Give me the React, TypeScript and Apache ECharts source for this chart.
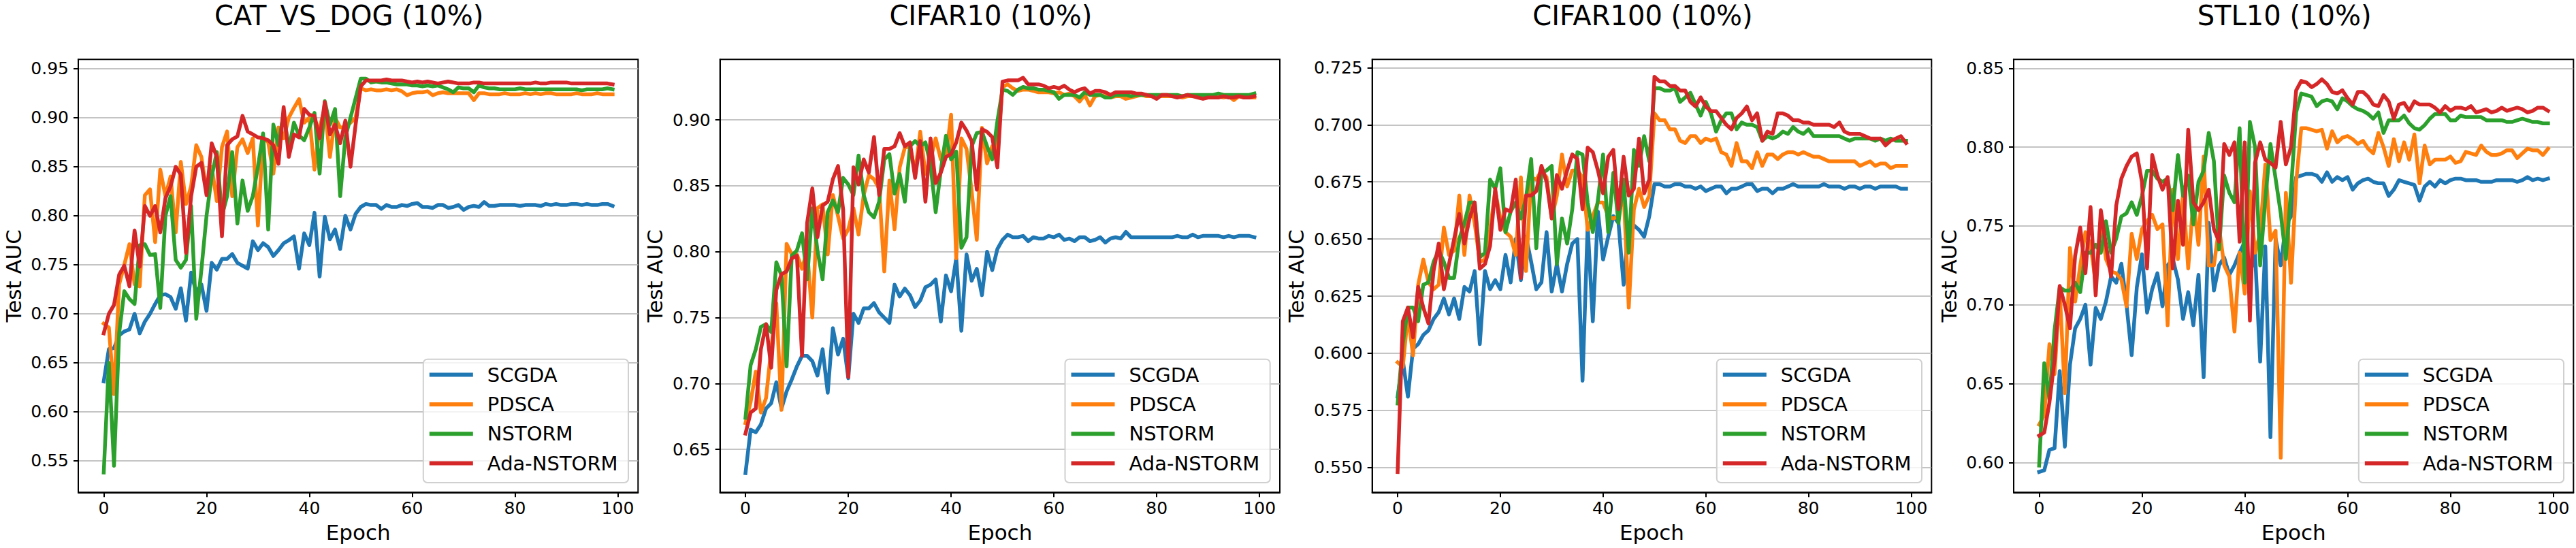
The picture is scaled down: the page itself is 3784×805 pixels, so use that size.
import React, { useEffect, useRef } from "react";
import * as echarts from "echarts";

// ---------------- data ----------------
const SERIES_NAMES = ["SCGDA", "PDSCA", "NSTORM", "Ada-NSTORM"];
const TITLES = ["CAT_VS_DOG (10%)", "CIFAR10 (10%)", "CIFAR100 (10%)", "STL10 (10%)"];
const X_TICKS = [0, 20, 40, 60, 80, 100];
const Y_TICKS_CAT = [0.55, 0.6, 0.65, 0.7, 0.75, 0.8, 0.85, 0.9, 0.95];
const Y_TICKS_C10 = [0.65, 0.7, 0.75, 0.8, 0.85, 0.9];
const Y_TICKS_C100 = [0.55, 0.575, 0.6, 0.625, 0.65, 0.675, 0.7, 0.725];
const Y_TICKS_STL = [0.6, 0.65, 0.7, 0.75, 0.8, 0.85];

const CAT_SCGDA = [
  0.631, 0.664, 0.665, 0.678, 0.682, 0.684, 0.700, 0.680, 0.692, 0.700,
  0.710, 0.719, 0.720, 0.717, 0.705, 0.726, 0.693, 0.742, 0.722, 0.730,
  0.703, 0.752, 0.745, 0.756, 0.756, 0.761, 0.752, 0.749, 0.746, 0.774,
  0.765, 0.772, 0.768, 0.759, 0.765, 0.772, 0.775, 0.779, 0.746, 0.782,
  0.770, 0.803, 0.738, 0.799, 0.776, 0.786, 0.766, 0.800, 0.786, 0.802,
  0.809, 0.812, 0.811, 0.811, 0.807, 0.811, 0.809, 0.809, 0.811, 0.810,
  0.812, 0.813, 0.809, 0.809, 0.808, 0.811, 0.811, 0.808, 0.809, 0.811,
  0.806, 0.809, 0.810, 0.809, 0.814, 0.810, 0.810, 0.811, 0.811, 0.811,
  0.811, 0.810, 0.811, 0.811, 0.811, 0.810, 0.812, 0.811, 0.812, 0.811,
  0.811, 0.812, 0.812, 0.811, 0.812, 0.811, 0.811, 0.812, 0.812, 0.810,
];
const CAT_PDSCA = [
  0.690, 0.686, 0.618, 0.730, 0.750, 0.771, 0.730, 0.728, 0.821, 0.827,
  0.773, 0.847, 0.820, 0.840, 0.783, 0.855, 0.812, 0.830, 0.872, 0.860,
  0.825, 0.850, 0.815, 0.870, 0.886, 0.820, 0.870, 0.878, 0.864, 0.879,
  0.790, 0.880, 0.875, 0.843, 0.890, 0.879, 0.900, 0.910, 0.919, 0.895,
  0.900, 0.847, 0.890, 0.910, 0.860, 0.900, 0.890, 0.890, 0.895, 0.900,
  0.930, 0.928, 0.929, 0.928, 0.928, 0.929, 0.928, 0.929, 0.927, 0.923,
  0.925, 0.926, 0.926, 0.927, 0.923, 0.925, 0.926, 0.925, 0.925, 0.925,
  0.925, 0.925, 0.918, 0.925, 0.925, 0.924, 0.924, 0.924, 0.925, 0.924,
  0.924, 0.924, 0.925, 0.924, 0.925, 0.924, 0.925, 0.925, 0.924, 0.924,
  0.924, 0.924, 0.925, 0.924, 0.924, 0.924, 0.925, 0.924, 0.924, 0.924,
];
const CAT_NSTORM = [
  0.538, 0.650, 0.545, 0.680, 0.723, 0.715, 0.710, 0.770, 0.771, 0.760,
  0.761, 0.706, 0.800, 0.820, 0.755, 0.747, 0.755, 0.810, 0.695, 0.745,
  0.800, 0.840, 0.865, 0.800, 0.820, 0.865, 0.792, 0.836, 0.805, 0.820,
  0.850, 0.884, 0.786, 0.893, 0.872, 0.905, 0.868, 0.895, 0.882, 0.877,
  0.890, 0.905, 0.843, 0.917, 0.893, 0.909, 0.820, 0.880, 0.900, 0.920,
  0.940, 0.940, 0.936, 0.937, 0.936, 0.936, 0.935, 0.934, 0.934, 0.934,
  0.933, 0.933, 0.932, 0.933, 0.932, 0.933, 0.931, 0.929, 0.926, 0.931,
  0.930, 0.930, 0.926, 0.933, 0.931, 0.930, 0.930, 0.929, 0.929, 0.929,
  0.929, 0.930, 0.929, 0.929, 0.929, 0.929, 0.929, 0.929, 0.929, 0.929,
  0.929, 0.929, 0.929, 0.928, 0.929, 0.929, 0.929, 0.929, 0.930, 0.929,
];
const CAT_ADA = [
  0.680, 0.700, 0.709, 0.740, 0.749, 0.728, 0.785, 0.748, 0.810, 0.800,
  0.810, 0.783, 0.818, 0.830, 0.850, 0.842, 0.762, 0.820, 0.850, 0.854,
  0.821, 0.874, 0.860, 0.779, 0.872, 0.878, 0.881, 0.902, 0.886, 0.883,
  0.880, 0.879, 0.877, 0.872, 0.853, 0.911, 0.860, 0.883, 0.880, 0.909,
  0.903, 0.902, 0.879, 0.916, 0.883, 0.893, 0.874, 0.897, 0.850, 0.893,
  0.932, 0.938, 0.938, 0.938, 0.938, 0.939, 0.938, 0.938, 0.938, 0.937,
  0.936, 0.937, 0.936, 0.937, 0.936, 0.935, 0.936, 0.937, 0.936, 0.935,
  0.935, 0.935, 0.936, 0.936, 0.935, 0.935, 0.935, 0.935, 0.935, 0.935,
  0.935, 0.935, 0.935, 0.935, 0.936, 0.935, 0.935, 0.936, 0.936, 0.936,
  0.936, 0.935, 0.935, 0.935, 0.935, 0.935, 0.935, 0.935, 0.935, 0.934,
];

const C10_SCGDA = [
  0.632, 0.665, 0.663, 0.669, 0.681, 0.685, 0.701, 0.681, 0.694, 0.703,
  0.713, 0.721, 0.721, 0.717, 0.706, 0.726, 0.693, 0.742, 0.722, 0.734,
  0.704, 0.753, 0.746, 0.757, 0.757, 0.761, 0.754, 0.750, 0.746, 0.775,
  0.766, 0.772, 0.767, 0.758, 0.763, 0.773, 0.775, 0.779, 0.747, 0.782,
  0.770, 0.795, 0.740, 0.798, 0.778, 0.787, 0.767, 0.800, 0.786, 0.802,
  0.809, 0.813, 0.811, 0.811, 0.812, 0.808, 0.811, 0.810, 0.810, 0.812,
  0.811, 0.813, 0.809, 0.810, 0.808, 0.811, 0.811, 0.808, 0.809, 0.811,
  0.807, 0.810, 0.811, 0.810, 0.815, 0.811, 0.811, 0.811, 0.811, 0.811,
  0.811, 0.811, 0.811, 0.811, 0.812, 0.811, 0.811, 0.813, 0.811, 0.812,
  0.812, 0.812, 0.812, 0.811, 0.812, 0.811, 0.812, 0.812, 0.812, 0.811,
];
const C10_PDSCA = [
  0.670, 0.686, 0.709, 0.678, 0.689, 0.726, 0.761, 0.680, 0.806, 0.798,
  0.798, 0.787, 0.801, 0.750, 0.833, 0.836, 0.798, 0.843, 0.827, 0.810,
  0.817, 0.833, 0.813, 0.843, 0.858, 0.855, 0.848, 0.785, 0.854, 0.817,
  0.864, 0.879, 0.880, 0.860, 0.891, 0.859, 0.870, 0.886, 0.870, 0.872,
  0.904, 0.795, 0.886, 0.878, 0.846, 0.809, 0.894, 0.867, 0.880, 0.878,
  0.925, 0.927, 0.924, 0.922, 0.923, 0.923, 0.922, 0.921, 0.921, 0.921,
  0.920, 0.921, 0.919, 0.920, 0.918, 0.914, 0.919, 0.911, 0.918, 0.919,
  0.918, 0.917, 0.918, 0.918, 0.916, 0.917, 0.918, 0.919, 0.918, 0.918,
  0.918, 0.918, 0.918, 0.918, 0.918, 0.917, 0.918, 0.918, 0.918, 0.917,
  0.918, 0.918, 0.918, 0.917, 0.918, 0.915, 0.918, 0.917, 0.917, 0.917,
];
const C10_NSTORM = [
  0.674, 0.714, 0.726, 0.743, 0.745, 0.739, 0.792, 0.782, 0.713, 0.797,
  0.801, 0.814, 0.779, 0.833, 0.801, 0.779, 0.830, 0.839, 0.830, 0.856,
  0.851, 0.843, 0.873, 0.843, 0.830, 0.826, 0.838, 0.870, 0.874, 0.844,
  0.859, 0.838, 0.880, 0.884, 0.880, 0.883, 0.866, 0.830, 0.862, 0.888,
  0.870, 0.876, 0.803, 0.811, 0.880, 0.890, 0.891, 0.880, 0.870, 0.899,
  0.923, 0.922, 0.919, 0.923, 0.925, 0.924, 0.924, 0.923, 0.923, 0.922,
  0.921, 0.916, 0.919, 0.919, 0.919, 0.917, 0.921, 0.919, 0.919, 0.919,
  0.917, 0.917, 0.919, 0.919, 0.919, 0.918, 0.919, 0.919, 0.919, 0.919,
  0.919, 0.919, 0.919, 0.919, 0.919, 0.918, 0.919, 0.919, 0.919, 0.919,
  0.919, 0.919, 0.920, 0.919, 0.919, 0.919, 0.919, 0.919, 0.919, 0.920,
];
const C10_ADA = [
  0.662, 0.678, 0.681, 0.726, 0.745, 0.712, 0.771, 0.783, 0.785, 0.795,
  0.797, 0.721, 0.822, 0.848, 0.811, 0.835, 0.838, 0.855, 0.865, 0.832,
  0.705, 0.864, 0.851, 0.870, 0.860, 0.887, 0.843, 0.878, 0.878, 0.880,
  0.890, 0.880, 0.883, 0.856, 0.884, 0.838, 0.886, 0.852, 0.860, 0.872,
  0.874, 0.883, 0.898, 0.892, 0.884, 0.847, 0.893, 0.891, 0.887, 0.864,
  0.929, 0.930, 0.930, 0.930, 0.932, 0.927, 0.927, 0.927, 0.926, 0.924,
  0.925, 0.924, 0.926, 0.923, 0.921, 0.923, 0.924, 0.920, 0.922, 0.922,
  0.921, 0.919, 0.921, 0.921, 0.921, 0.921, 0.920, 0.920, 0.919, 0.918,
  0.916, 0.919, 0.919, 0.918, 0.917, 0.918, 0.919, 0.918, 0.917, 0.916,
  0.917, 0.917, 0.917, 0.918, 0.917, 0.917, 0.918, 0.917, 0.917, 0.918,
];

const C100_SCGDA = [
  0.581, 0.597, 0.581, 0.602, 0.604, 0.608, 0.610, 0.615, 0.618, 0.624,
  0.617, 0.624, 0.615, 0.629, 0.627, 0.636, 0.604, 0.636, 0.628, 0.632,
  0.628, 0.643, 0.631, 0.650, 0.632, 0.651, 0.640, 0.628, 0.631, 0.653,
  0.627, 0.639, 0.627, 0.639, 0.648, 0.650, 0.588, 0.656, 0.614, 0.662,
  0.641, 0.651, 0.660, 0.657, 0.630, 0.657, 0.656, 0.654, 0.651, 0.660,
  0.674, 0.674, 0.673, 0.673, 0.674, 0.674, 0.673, 0.673, 0.672, 0.673,
  0.671, 0.672, 0.673, 0.673, 0.670, 0.672, 0.672, 0.673, 0.674, 0.674,
  0.671, 0.672, 0.672, 0.670, 0.672, 0.672, 0.673, 0.674, 0.673, 0.673,
  0.673, 0.673, 0.673, 0.674, 0.673, 0.673, 0.673, 0.672, 0.673, 0.673,
  0.672, 0.673, 0.673, 0.672, 0.673, 0.673, 0.673, 0.673, 0.672, 0.672,
];
const C100_PDSCA = [
  0.596, 0.594, 0.617, 0.599, 0.630, 0.641, 0.631, 0.628, 0.630, 0.655,
  0.643, 0.645, 0.669, 0.643, 0.669, 0.657, 0.640, 0.641, 0.654, 0.671,
  0.659, 0.653, 0.651, 0.643, 0.677, 0.636, 0.677, 0.676, 0.680, 0.677,
  0.659, 0.669, 0.687, 0.673, 0.680, 0.680, 0.677, 0.654, 0.660, 0.666,
  0.666, 0.660, 0.659, 0.660, 0.671, 0.620, 0.663, 0.672, 0.664, 0.669,
  0.705, 0.702, 0.702, 0.698, 0.698, 0.693, 0.692, 0.695, 0.695, 0.692,
  0.694, 0.693, 0.694, 0.688, 0.687, 0.682, 0.692, 0.684, 0.684, 0.681,
  0.688, 0.682, 0.687, 0.687, 0.685, 0.687, 0.688, 0.688, 0.687, 0.688,
  0.687, 0.686, 0.686, 0.685, 0.684, 0.684, 0.684, 0.684, 0.684, 0.684,
  0.682, 0.683, 0.684, 0.682, 0.683, 0.683, 0.681, 0.682, 0.682, 0.682,
];
const C100_NSTORM = [
  0.578, 0.604, 0.620, 0.620, 0.614, 0.630, 0.631, 0.640, 0.645, 0.640,
  0.633, 0.633, 0.650, 0.657, 0.666, 0.666, 0.642, 0.644, 0.676, 0.672,
  0.681, 0.653, 0.662, 0.666, 0.659, 0.668, 0.685, 0.646, 0.679, 0.680,
  0.682, 0.639, 0.659, 0.648, 0.663, 0.688, 0.687, 0.666, 0.653, 0.667,
  0.687, 0.653, 0.679, 0.657, 0.676, 0.644, 0.689, 0.682, 0.695, 0.684,
  0.716, 0.716, 0.715, 0.715, 0.716, 0.710, 0.712, 0.714, 0.709, 0.704,
  0.710, 0.705, 0.697, 0.702, 0.705, 0.705, 0.698, 0.701, 0.700, 0.700,
  0.699, 0.693, 0.695, 0.694, 0.695, 0.697, 0.696, 0.699, 0.697, 0.696,
  0.698, 0.695, 0.695, 0.695, 0.695, 0.695, 0.695, 0.694, 0.693, 0.694,
  0.694, 0.694, 0.694, 0.693, 0.694, 0.693, 0.694, 0.693, 0.693, 0.693,
];
const C100_ADA = [
  0.548, 0.614, 0.620, 0.607, 0.629, 0.620, 0.613, 0.636, 0.648, 0.628,
  0.639, 0.650, 0.661, 0.648, 0.659, 0.666, 0.637, 0.639, 0.647, 0.672,
  0.654, 0.663, 0.662, 0.676, 0.633, 0.669, 0.669, 0.671, 0.682, 0.675,
  0.659, 0.678, 0.672, 0.680, 0.687, 0.685, 0.663, 0.690, 0.688, 0.680,
  0.670, 0.686, 0.689, 0.663, 0.686, 0.669, 0.672, 0.694, 0.670, 0.676,
  0.721, 0.719, 0.719, 0.717, 0.717, 0.715, 0.715, 0.710, 0.708, 0.712,
  0.708, 0.706, 0.706, 0.703, 0.700, 0.698, 0.703, 0.705, 0.708, 0.702,
  0.705, 0.693, 0.697, 0.696, 0.705, 0.705, 0.704, 0.702, 0.702, 0.701,
  0.701, 0.700, 0.700, 0.700, 0.700, 0.699, 0.701, 0.697, 0.696, 0.696,
  0.696, 0.695, 0.694, 0.694, 0.694, 0.691, 0.693, 0.694, 0.695, 0.692,
];

const STL_SCGDA = [
  0.594, 0.595, 0.608, 0.609, 0.658, 0.610, 0.662, 0.685, 0.691, 0.700,
  0.662, 0.698, 0.691, 0.702, 0.718, 0.714, 0.726, 0.700, 0.668, 0.711,
  0.732, 0.695, 0.710, 0.720, 0.699, 0.725, 0.729, 0.716, 0.691, 0.708,
  0.687, 0.719, 0.654, 0.752, 0.709, 0.725, 0.730, 0.719, 0.725, 0.733,
  0.740, 0.719, 0.733, 0.664, 0.737, 0.616, 0.742, 0.725, 0.751, 0.756,
  0.781, 0.782, 0.783, 0.783, 0.782, 0.778, 0.784, 0.778, 0.781, 0.779,
  0.781, 0.773, 0.777, 0.779, 0.780, 0.778, 0.777, 0.777, 0.769, 0.773,
  0.779, 0.778, 0.777, 0.776, 0.766, 0.775, 0.778, 0.775, 0.779, 0.777,
  0.779, 0.780, 0.780, 0.779, 0.779, 0.779, 0.778, 0.778, 0.778, 0.779,
  0.779, 0.779, 0.779, 0.778, 0.779, 0.781, 0.779, 0.780, 0.779, 0.780,
];
const STL_PDSCA = [
  0.624, 0.630, 0.675, 0.656, 0.709, 0.644, 0.736, 0.702, 0.725, 0.746,
  0.738, 0.714, 0.754, 0.729, 0.721, 0.720, 0.716, 0.699, 0.745, 0.729,
  0.748, 0.753, 0.757, 0.748, 0.751, 0.687, 0.773, 0.729, 0.771, 0.723,
  0.767, 0.738, 0.794, 0.725, 0.725, 0.749, 0.725, 0.718, 0.683, 0.733,
  0.707, 0.772, 0.733, 0.745, 0.789, 0.741, 0.747, 0.603, 0.771, 0.714,
  0.778, 0.812, 0.812, 0.811, 0.810, 0.811, 0.799, 0.810, 0.803, 0.806,
  0.807, 0.805, 0.802, 0.804, 0.799, 0.796, 0.809, 0.800, 0.788, 0.805,
  0.791, 0.803, 0.792, 0.808, 0.777, 0.801, 0.789, 0.792, 0.792, 0.792,
  0.794, 0.790, 0.791, 0.797, 0.796, 0.795, 0.801, 0.797, 0.795, 0.795,
  0.796, 0.798, 0.798, 0.793, 0.796, 0.799, 0.798, 0.798, 0.795, 0.799,
];
const STL_NSTORM = [
  0.598, 0.663, 0.640, 0.684, 0.711, 0.709, 0.709, 0.714, 0.708, 0.733,
  0.733, 0.738, 0.733, 0.753, 0.733, 0.742, 0.756, 0.758, 0.765, 0.757,
  0.769, 0.785, 0.785, 0.780, 0.778, 0.780, 0.760, 0.795, 0.769, 0.782,
  0.751, 0.778, 0.785, 0.809, 0.791, 0.735, 0.782, 0.771, 0.765, 0.812,
  0.714, 0.816, 0.800, 0.725, 0.767, 0.802, 0.780, 0.758, 0.729, 0.773,
  0.822, 0.834, 0.833, 0.832, 0.826, 0.829, 0.830, 0.829, 0.824, 0.831,
  0.829, 0.826, 0.824, 0.823, 0.821, 0.818, 0.822, 0.809, 0.817, 0.817,
  0.817, 0.820, 0.815, 0.812, 0.811, 0.814, 0.818, 0.821, 0.821, 0.821,
  0.817, 0.817, 0.820, 0.819, 0.819, 0.819, 0.819, 0.817, 0.817, 0.817,
  0.817, 0.816, 0.816, 0.817, 0.818, 0.817, 0.816, 0.816, 0.815, 0.815,
];
const STL_ADA = [
  0.617, 0.619, 0.638, 0.665, 0.712, 0.700, 0.685, 0.731, 0.749, 0.720,
  0.762, 0.706, 0.760, 0.738, 0.718, 0.763, 0.780, 0.788, 0.794, 0.796,
  0.778, 0.723, 0.795, 0.782, 0.773, 0.781, 0.723, 0.766, 0.738, 0.811,
  0.765, 0.760, 0.765, 0.773, 0.748, 0.740, 0.802, 0.795, 0.803, 0.740,
  0.803, 0.690, 0.790, 0.803, 0.792, 0.790, 0.787, 0.816, 0.789, 0.800,
  0.836, 0.842, 0.841, 0.838, 0.840, 0.843, 0.840, 0.835, 0.834, 0.836,
  0.831, 0.827, 0.835, 0.835, 0.832, 0.827, 0.826, 0.833, 0.829, 0.818,
  0.827, 0.828, 0.823, 0.829, 0.827, 0.827, 0.827, 0.825, 0.822, 0.826,
  0.823, 0.825, 0.825, 0.824, 0.826, 0.822, 0.823, 0.824, 0.822, 0.823,
  0.825, 0.823, 0.824, 0.825, 0.824, 0.822, 0.823, 0.825, 0.825, 0.823,
];

// ---------------- styling / layout ----------------
const W = 3784;
const H = 805;
const FONT = "DejaVu Sans";
const COLORS = ["#1f77b4", "#ff7f0e", "#2ca02c", "#d62728"];
const GRID_TOP = 87.3;
const GRID_H = 636;

const PANELS = [
  { title: TITLES[0], data: [CAT_SCGDA, CAT_PDSCA, CAT_NSTORM, CAT_ADA], yTicks: Y_TICKS_CAT, yMin: 0.5178, yMax: 0.9595, dec: 2, left: 115, width: 822.3, nameGap: 80 },
  { title: TITLES[1], data: [C10_SCGDA, C10_PDSCA, C10_NSTORM, C10_ADA], yTicks: Y_TICKS_C10, yMin: 0.6174, yMax: 0.9459, dec: 2, left: 1057.7, width: 822.3, nameGap: 80 },
  { title: TITLES[2], data: [C100_SCGDA, C100_PDSCA, C100_NSTORM, C100_ADA], yTicks: Y_TICKS_C100, yMin: 0.5391, yMax: 0.7286, dec: 3, left: 2015.7, width: 821.6, nameGap: 96 },
  { title: TITLES[3], data: [STL_SCGDA, STL_PDSCA, STL_NSTORM, STL_ADA], yTicks: Y_TICKS_STL, yMin: 0.581, yMax: 0.8556, dec: 2, left: 2958, width: 822.3, nameGap: 80 },
];

function buildOption() {
  return {
    animation: false,
    backgroundColor: "#ffffff",
    textStyle: { fontFamily: FONT },
    grid: PANELS.map((p) => ({
      left: p.left,
      top: GRID_TOP,
      width: p.width,
      height: GRID_H,
      show: true,
      borderColor: "#000",
      borderWidth: 2,
      backgroundColor: "transparent",
      containLabel: false,
    })),
    xAxis: PANELS.map((p, i) => ({
      type: "value",
      gridIndex: i,
      min: -4.95,
      max: 103.95,
      name: "Epoch",
      nameLocation: "middle",
      nameGap: 43,
      nameTextStyle: { fontSize: 31, color: "#000", fontFamily: FONT },
      axisLine: { show: true, onZero: false, lineStyle: { color: "#000", width: 2 } },
      axisTick: { show: true, length: 7, inside: false, customValues: X_TICKS, lineStyle: { color: "#000", width: 2 } },
      axisLabel: { show: true, customValues: X_TICKS, fontSize: 25, color: "#000", fontFamily: FONT, margin: 11, formatter: (v: number) => String(Math.round(v)) },
      splitLine: { show: false },
    })),
    yAxis: PANELS.map((p, i) => ({
      type: "value",
      gridIndex: i,
      min: p.yMin,
      max: p.yMax,
      name: "Test AUC",
      nameLocation: "middle",
      nameRotate: 90,
      nameGap: p.nameGap,
      nameTextStyle: { fontSize: 31, color: "#000", fontFamily: FONT },
      axisLine: { show: true, onZero: false, lineStyle: { color: "#000", width: 2 } },
      axisTick: { show: true, length: 7, inside: false, customValues: p.yTicks, lineStyle: { color: "#000", width: 2 } },
      axisLabel: { show: true, customValues: p.yTicks, fontSize: 25, color: "#000", fontFamily: FONT, margin: 14, formatter: (v: number) => v.toFixed(p.dec) },
      splitLine: { show: true, lineStyle: { color: "#b0b0b0", width: 1.6 } },
    })),
    legend: PANELS.map((p) => ({
      data: SERIES_NAMES,
      orient: "vertical",
      right: W - (p.left + p.width) + 14.3,
      bottom: H - (GRID_TOP + GRID_H) + 14.3,
      icon: "rect",
      itemWidth: 64,
      itemHeight: 6,
      itemGap: 7.3,
      padding: [4.8, 15.4, 10.5, 9],
      backgroundColor: "rgba(255,255,255,0.8)",
      borderColor: "#d0d0d0",
      borderWidth: 2,
      borderRadius: 6,
      selectedMode: false,
      itemStyle: { borderWidth: 0 },
      textStyle: { fontSize: 29, color: "#000", fontFamily: FONT, lineHeight: 36, padding: [0, 0, 0, 16] },
    })),
    graphic: PANELS.map((p) => ({
      type: "text",
      x: p.left + p.width / 2 - 13.5,
      y: 22.9,
      silent: true,
      style: {
        text: p.title,
        fontSize: 40,
        fontFamily: FONT,
        fill: "#000",
        align: "center",
        verticalAlign: "middle",
      },
    })),
    series: PANELS.flatMap((p, i) =>
      p.data.map((arr, k) => ({
        type: "line",
        name: SERIES_NAMES[k],
        xAxisIndex: i,
        yAxisIndex: i,
        data: arr.map((v, j) => [j, v]),
        showSymbol: false,
        symbol: "none",
        silent: true,
        color: COLORS[k],
        itemStyle: { color: COLORS[k] },
        lineStyle: { width: 5.5, color: COLORS[k], join: "round", cap: "square" },
      }))
    ),
  };
}

export default function App() {
  const ref = useRef<HTMLDivElement>(null);
  useEffect(() => {
    if (!ref.current) return;
    const chart = echarts.init(ref.current, null, { renderer: "svg", width: W, height: H });
    chart.setOption(buildOption() as any);
    return () => chart.dispose();
  }, []);
  return (
    <div
      ref={ref}
      style={{ position: "fixed", left: 0, top: 0, width: W, height: H, background: "#fff" }}
    />
  );
}
